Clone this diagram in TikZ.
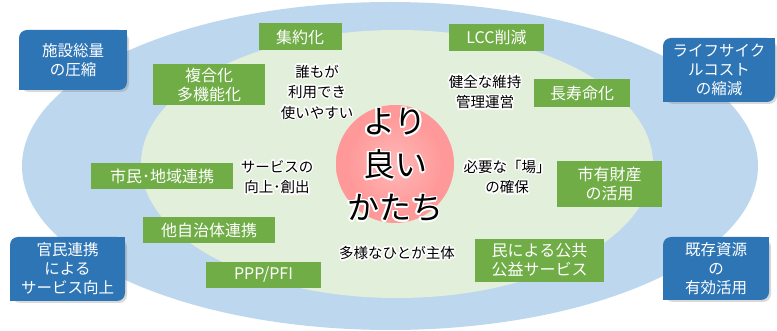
\documentclass[tikz,border=0pt]{standalone}
\usepackage{fontspec}
\setmainfont{Noto Sans CJK JP}
\usetikzlibrary{shadows,calc}

\definecolor{outerblue}{HTML}{BDD7EE}
\definecolor{innergreen}{HTML}{E2EFDA}
\definecolor{boxgreen}{HTML}{70AD47}
\definecolor{boxblue}{HTML}{2E75B6}
\definecolor{ballpink}{HTML}{FF9999}
\pgfdeclareradialshading{pinkball}{\pgfpoint{0bp}{0bp}}{color(0bp)=(ballpink!70!white); color(20bp)=(ballpink); color(41bp)=(ballpink); color(50bp)=(innergreen)}

% text with a white halo
\newcommand{\glowlabel}[4][caption]{%
  \foreach \ang in {0,30,...,330}
    \node[#1, text=white] at ($(#3)+(\ang:1.6)$) {#4};
  \node[#1] (#2) at (#3) {#4};}

\begin{document}
\begin{tikzpicture}[x=1pt, y=-1pt]
  \tikzstyle{greenbox}=[fill=boxgreen, text=white, align=center, inner sep=0pt, font=\fontsize{16}{19}\selectfont]
  \tikzstyle{bluebox}=[fill=boxblue, text=white, align=center, inner sep=0pt, rounded corners=8pt, drop shadow={shadow xshift=2pt, shadow yshift=-2pt, opacity=0.3}, font=\fontsize{15.5}{19}\selectfont]
  \tikzstyle{caption}=[align=center, inner sep=0pt, font=\fontsize{14.5}{20.5}\selectfont]
  \tikzstyle{center}=[align=center, inner sep=0pt, font=\fontsize{32}{43}\selectfont]

  \useasboundingbox (0,0) rectangle (777,331);

  % Ellipsen
  \fill[outerblue] (390,166) ellipse [x radius=368, y radius=164];
  \fill[innergreen] (397,164) ellipse [x radius=256, y radius=134];
  \shade[shading=pinkball] (395,164) circle [radius=59];

  % Massnahmen
  \node[greenbox, minimum width=83, minimum height=27] (shuyaku) at (300,37) {集約化};
  \node[greenbox, minimum width=112, minimum height=41] (fukugo) at (209,85) {複合化\\多機能化};
  \node[greenbox, minimum width=95, minimum height=27] (lcc) at (496.5,37.5) {LCC削減};
  \node[greenbox, minimum width=96, minimum height=28] (chouju) at (582,93) {長寿命化};
  \node[greenbox, minimum width=142, minimum height=26] (shimin) at (162,176) {市民･地域連携};
  \node[greenbox, minimum width=132, minimum height=26] (tajichi) at (209,230) {他自治体連携};
  \node[greenbox, minimum width=115, minimum height=26] (ppp) at (263.5,275) {PPP/PFI};
  \node[greenbox, minimum width=105, minimum height=46] (shiyu) at (609.5,184) {市有財産\\の活用};
  \node[greenbox, minimum width=129, minimum height=43] (minkan) at (539.5,260.5) {民による公共\\公益サービス};

  % Ziele
  \node[bluebox, minimum width=108, minimum height=60] (sosuryo) at (73,60) {施設総量\\の圧縮};
  \node[bluebox, minimum width=112, minimum height=64] (lifecycle) at (719,70) {ライフサイク\\ルコスト\\の縮減};
  \node[bluebox, minimum width=115, minimum height=64] (kanmin) at (67.5,269) {官民連携\\による\\サービス向上};
  \node[bluebox, minimum width=106, minimum height=63] (kison) at (716,268.5) {既存資源\\の\\有効活用};
  \foreach \b in {sosuryo, lifecycle, kanmin, kison} {
    \fill[boxblue] (\b.north east) rectangle ++(-9,9);
    \fill[boxblue] (\b.south west) rectangle ++(9,-9);
  }

  % Texte
  \glowlabel{daremo}{317,92}{誰もが\\利用でき\\使いやすい}
  \glowlabel{kenzen}{485,92}{健全な維持\\管理運営}
  \glowlabel{service}{277,177}{サービスの\\向上･創出}
  \glowlabel{ba}{507,177}{必要な「場」\\の確保}
  \glowlabel{tayo}{397,253}{多様なひとが主体}
  \glowlabel[center]{yori}{395,165}{より\\良い\\かたち}
\end{tikzpicture}
\end{document}
